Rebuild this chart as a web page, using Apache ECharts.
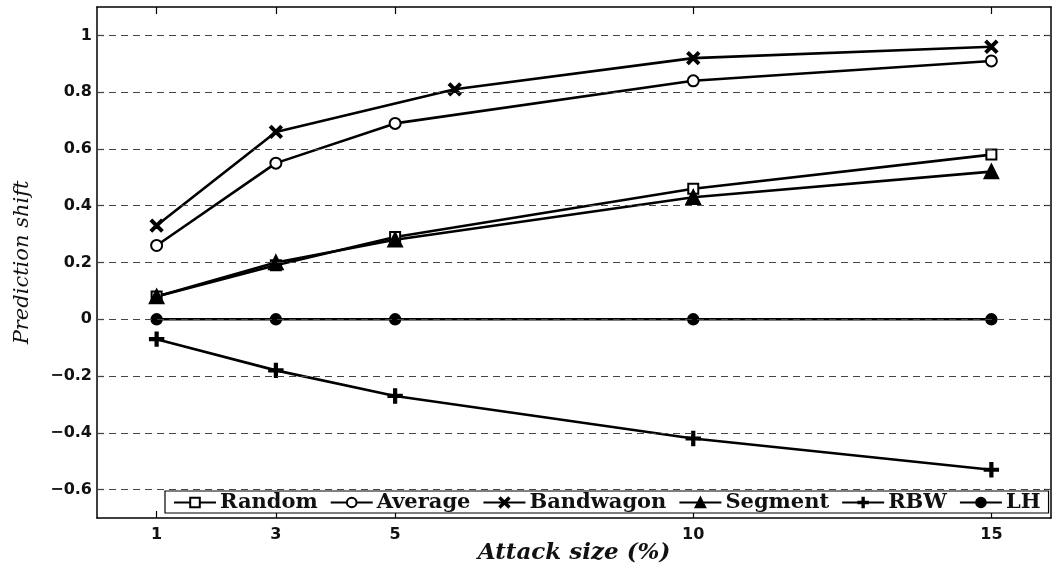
<!DOCTYPE html>
<html>
<head>
<meta charset="utf-8">
<script src="https://cdn.jsdelivr.net/npm/echarts@6/dist/echarts.min.js"></script>
<style>
  html, body { margin: 0; padding: 0; background: #fff; }
  #chart { width: 1055px; height: 570px; }
</style>
</head>
<body>
<div id="chart"></div>
<script>
// Attack sizes (%) and prediction shift for each attack model
const attackSizes = [1, 3, 5, 10, 15];
const bandwagonSizes = [1, 3, 6, 10, 15];
const randomShift = [0.08, 0.19, 0.29, 0.46, 0.58];
const averageShift = [0.26, 0.55, 0.69, 0.84, 0.91];
const bandwagonShift = [0.33, 0.66, 0.81, 0.92, 0.96];
const segmentShift = [0.08, 0.20, 0.28, 0.43, 0.52];
const rbwShift = [-0.07, -0.18, -0.27, -0.42, -0.53];
const lhShift = [0, 0, 0, 0, 0];
const xTicks = [1, 3, 5, 10, 15];
const yTicks = [-0.6, -0.4, -0.2, 0, 0.2, 0.4, 0.6, 0.8, 1];

const pairs = (xs, ys) => xs.map((x, i) => [x, ys[i]]);

const crossPath = 'path://M1,0L5,4L9,0L10,1L6,5L10,9L9,10L5,6L1,10L0,9L4,5L0,1Z';
const plusPath = 'path://M4.3,0H5.7V4.3H10V5.7H5.7V10H4.3V5.7H0V4.3H4.3Z';

const tickFont = { fontFamily: 'DejaVu Sans, sans-serif', fontWeight: 'bold', fontSize: 16, color: '#111' };
const fmtY = v => {
  const r = Math.round(v * 10) / 10;
  return r < 0 ? '\u2212' + Math.abs(r) : String(r);
};

function lineSeries(name, data, symbol, size, extra) {
  return Object.assign({
    name, type: 'line', data, symbol, symbolSize: size,
    showAllSymbol: true,
    lineStyle: { color: '#000', width: 2.6 },
    itemStyle: { color: '#000', borderColor: '#000', borderWidth: 2.4 },
    emphasis: { disabled: true },
    z: 3
  }, extra || {});
}

const chart = echarts.init(document.getElementById('chart'), null, { renderer: 'canvas' });

chart.setOption({
  animation: false,
  backgroundColor: '#fff',
  grid: { left: 97, right: 4, top: 7, bottom: 52, containLabel: false, outerBoundsMode: 'none' },
  xAxis: [{
    type: 'value', min: 0, max: 16, position: 'bottom',
    name: 'Attack size (%)', nameLocation: 'middle', nameGap: 24, nameMoveOverlap: false,
    nameTextStyle: { fontFamily: 'DejaVu Serif, serif', fontStyle: 'italic', fontWeight: 'bold', fontSize: 23, color: '#111' },
    axisLine: { show: true, onZero: false, lineStyle: { color: '#000', width: 1.5 } },
    axisTick: { show: true, inside: true, length: 7, customValues: xTicks, lineStyle: { color: '#000', width: 1.2 } },
    axisLabel: Object.assign({ customValues: xTicks, margin: 9 }, tickFont),
    splitLine: { show: false }
  }, {
    type: 'value', min: 0, max: 16, position: 'top',
    axisLine: { show: true, onZero: false, lineStyle: { color: '#000', width: 1.5 } },
    axisTick: { show: true, inside: true, length: 7, customValues: xTicks, lineStyle: { color: '#000', width: 1.2 } },
    axisLabel: { show: false },
    splitLine: { show: false }
  }],
  yAxis: [{
    type: 'value', min: -0.7, max: 1.1, position: 'left',
    name: 'Prediction shift', nameLocation: 'middle', nameGap: 64, nameRotate: 90,
    nameTextStyle: { fontFamily: 'DejaVu Serif, serif', fontStyle: 'italic', fontSize: 21, color: '#111' },
    axisLine: { show: true, onZero: false, lineStyle: { color: '#000', width: 1.5 } },
    axisTick: { show: true, inside: true, length: 7, customValues: yTicks, lineStyle: { color: '#000', width: 1.2 } },
    axisLabel: Object.assign({ customValues: yTicks, margin: 5, formatter: fmtY }, tickFont),
    splitLine: { show: false }
  }, {
    type: 'value', min: -0.7, max: 1.1, position: 'right',
    axisLine: { show: true, onZero: false, lineStyle: { color: '#000', width: 1.5 } },
    axisTick: { show: true, inside: true, length: 7, customValues: yTicks, lineStyle: { color: '#000', width: 1.2 } },
    axisLabel: { show: false },
    splitLine: { show: false }
  }],
  legend: {
    data: ['Random', 'Average', 'Bandwagon', 'Segment', 'RBW', 'LH'],
    left: 165, top: 491,
    orient: 'horizontal',
    itemWidth: 42, itemHeight: 12, itemGap: 12,
    padding: [1, 8, 0, 8],
    backgroundColor: '#fff',
    borderColor: '#000', borderWidth: 1.2, borderRadius: 0,
    textStyle: { fontFamily: 'DejaVu Serif, serif', fontWeight: 'bold', fontSize: 21, color: '#111', lineHeight: 20, padding: [0, 0, 0, -1] },
    selectedMode: false,
    z: 10
  },
  series: [
    {
      name: 'grid', type: 'line', data: [], silent: true, z: 1,
      markLine: {
        silent: true, symbol: 'none', animation: false,
        label: { show: false },
        lineStyle: { color: '#444', width: 1, type: [7, 5] },
        data: yTicks.map(v => ({ yAxis: v }))
      }
    },
    lineSeries('Random', pairs(attackSizes, randomShift), 'emptyRect', 10),
    lineSeries('Average', pairs(attackSizes, averageShift), 'emptyCircle', 11),
    lineSeries('Bandwagon', pairs(bandwagonSizes, bandwagonShift), crossPath, 11),
    lineSeries('Segment', pairs(attackSizes, segmentShift), 'triangle', 13),
    lineSeries('RBW', pairs(attackSizes, rbwShift), plusPath, 13),
    lineSeries('LH', pairs(attackSizes, lhShift), 'circle', 10)
  ]
});
</script>
</body>
</html>
